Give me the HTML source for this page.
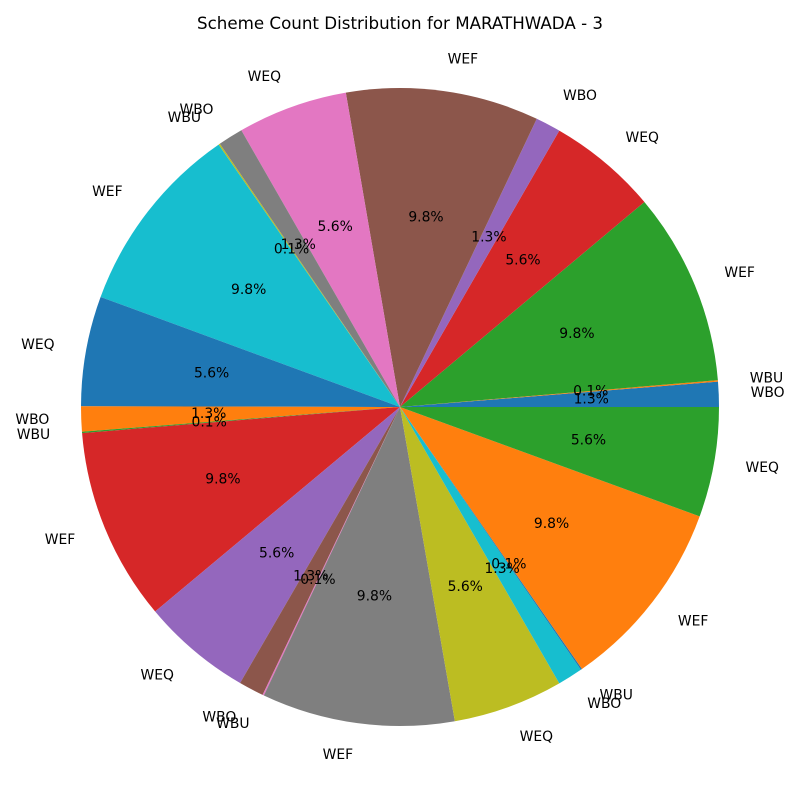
<!DOCTYPE html>
<html><head><meta charset="utf-8">
<style>
html,body{margin:0;padding:0;background:#fff;}
svg{display:block;font-family:"DejaVu Sans","Liberation Sans",sans-serif;}
</style></head>
<body>
<svg id="chart" width="800" height="800" viewBox="0 0 800 800" xmlns="http://www.w3.org/2000/svg">
<text x="400" y="29" text-anchor="middle" font-size="16.7">Scheme Count Distribution for MARATHWADA - 3</text>
<g id="wedges"></g>
<g id="labels"></g>
</svg>
<script>
const categories = ["WBO","WBU","WEF","WEQ","WBO","WEF","WEQ","WBO","WBU","WEF","WEQ","WBO","WBU","WEF","WEQ","WBO","WBU","WEF","WEQ","WBO","WBU","WEF","WEQ"];
const values = [1.27,0.07,9.77,5.57,1.27,9.77,5.57,1.27,0.07,9.77,5.57,1.27,0.07,9.77,5.57,1.27,0.07,9.77,5.57,1.27,0.07,9.77,5.57];
const palette = ["#1f77b4","#ff7f0e","#2ca02c","#d62728","#9467bd","#8c564b","#e377c2","#7f7f7f","#bcbd22","#17becf"];
const cx = 400, cy = 407, R = 319;
const NS = "http://www.w3.org/2000/svg";
const total = values.reduce((a,b)=>a+b,0);
const wg = document.getElementById("wedges"), lg = document.getElementById("labels");
function pt(angDeg, r){ const a = angDeg*Math.PI/180; return [cx + r*Math.cos(a), cy - r*Math.sin(a)]; }
let start = 0;
values.forEach((v,i)=>{
  const sweep = v/total*360, end = start + sweep;
  const [x1,y1] = pt(start,R), [x2,y2] = pt(end,R);
  const p = document.createElementNS(NS,"path");
  p.setAttribute("d",`M${cx},${cy} L${x1},${y1} A${R},${R} 0 ${sweep>180?1:0} 0 ${x2},${y2} Z`);
  p.setAttribute("fill",palette[i%10]);
  
  
  wg.appendChild(p);
  const mid = start + sweep/2;
  const [lx,ly] = pt(mid, R*1.1);
  const t = document.createElementNS(NS,"text");
  t.setAttribute("x",lx); t.setAttribute("y",ly);
  t.setAttribute("font-size","13.9");
  t.setAttribute("dominant-baseline","central");
  t.setAttribute("text-anchor", Math.cos(mid*Math.PI/180) >= 0 ? "start" : "end");
  t.textContent = categories[i];
  
  
  lg.appendChild(t);
  const [px,py] = pt(mid, R*0.6);
  const q = document.createElementNS(NS,"text");
  q.setAttribute("x",px); q.setAttribute("y",py);
  q.setAttribute("font-size","13.9");
  q.setAttribute("dominant-baseline","central");
  q.setAttribute("text-anchor","middle");
  q.textContent = (v/total*100).toFixed(1) + "%";
  
  
  lg.appendChild(q);
  start = end;
});
</script>
</body></html>
